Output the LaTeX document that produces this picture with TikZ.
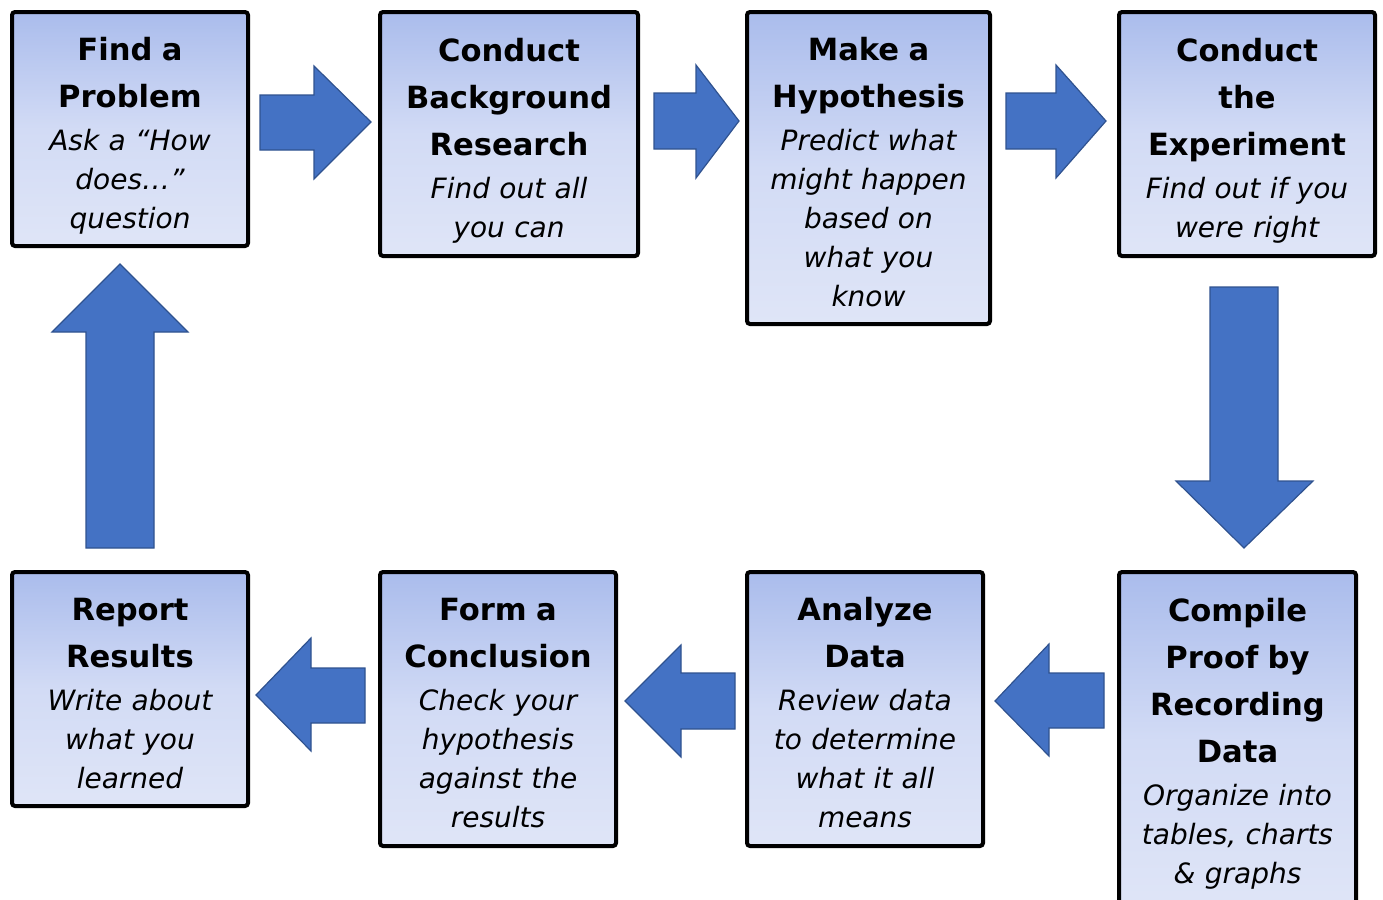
\documentclass[tikz,border=0pt]{standalone}
\usepackage{fontspec}
\setmainfont{DejaVu Sans}
\definecolor{arrowfill}{HTML}{4472C4}
\definecolor{arrowline}{HTML}{2F528F}
\definecolor{boxtop}{RGB}{170,188,236}
\definecolor{boxmid}{RGB}{210,219,245}
\definecolor{boxbot}{RGB}{223,229,247}
\newcommand{\tl}[1]{{\bfseries\upshape\fontsize{15.3}{19.5}\selectfont #1}}
\begin{document}
\begin{tikzpicture}[x=0.5pt, y=-0.5pt,
  stepbox/.style={draw=black, line width=2pt, rounded corners=1.5pt,
    top color=boxtop, bottom color=boxbot, middle color=boxmid,
    inner sep=0pt},
  steptext/.style={inner sep=0pt, align=center, text width=135pt,
    font=\itshape\fontsize{14}{19.5}\selectfont, yshift=-3.5pt},
  blockarrow/.style={fill=arrowfill, draw=arrowline, line width=0.6pt, line join=miter}]
\useasboundingbox (0,0) rectangle (1383,900);
\clip (0,0) rectangle (1383,900);

% boxes
\node[stepbox, minimum width=118pt, minimum height=117pt] (find) at (130,129) {};
\node[stepbox, minimum width=129pt, minimum height=122pt] (research) at (509,134) {};
\node[stepbox, minimum width=121.5pt, minimum height=156pt] (hypo) at (868.5,168) {};
\node[stepbox, minimum width=128pt, minimum height=122pt] (exper) at (1247,134) {};
\node[stepbox, minimum width=118.5pt, minimum height=169pt] (compile) at (1237.5,741) {};
\node[stepbox, minimum width=118pt, minimum height=137pt] (analyze) at (865,709) {};
\node[stepbox, minimum width=118pt, minimum height=137pt] (concl) at (498,709) {};
\node[stepbox, minimum width=118pt, minimum height=117pt] (report) at (130,689) {};

% texts
\node[steptext] (findtxt) at (find.center)
  {\tl{Find a}\\[4pt]\tl{Problem}\\[2pt]Ask a “How\\does…”\\question};
\node[steptext] (researchtxt) at (research.center)
  {\tl{Conduct}\\[4pt]\tl{Background}\\[4pt]\tl{Research}\\[2pt]Find out all\\you can};
\node[steptext, yshift=1.5pt] (hypotxt) at (hypo.center)
  {\tl{Make a}\\[4pt]\tl{Hypothesis}\\[2pt]Predict what\\might happen\\based on\\what you\\know};
\node[steptext] (expertxt) at (exper.center)
  {\tl{Conduct}\\[4pt]\tl{the}\\[4pt]\tl{Experiment}\\[2pt]Find out if you\\were right};
\node[steptext, yshift=2pt] (compiletxt) at (compile.center)
  {\tl{Compile}\\[4pt]\tl{Proof by}\\[4pt]\tl{Recording}\\[4pt]\tl{Data}\\[2pt]Organize into\\tables, charts\\\& graphs};
\node[steptext, yshift=1.5pt] (analyzetxt) at (analyze.center)
  {\tl{Analyze}\\[4pt]\tl{Data}\\[2pt]Review data\\to determine\\what it all\\means};
\node[steptext, yshift=1.5pt] (concltxt) at (concl.center)
  {\tl{Form a}\\[4pt]\tl{Conclusion}\\[2pt]Check your\\hypothesis\\against the\\results};
\node[steptext, yshift=1pt] (reporttxt) at (report.center)
  {\tl{Report}\\[4pt]\tl{Results}\\[2pt]Write about\\what you\\learned};

% block arrows
\draw[blockarrow] (260,95) -- (314,95) -- (314,66) -- (371,122) -- (314,179) -- (314,150) -- (260,150) -- cycle;
\draw[blockarrow] (654,93) -- (696,93) -- (696,65) -- (739,121) -- (696,178) -- (696,149) -- (654,149) -- cycle;
\draw[blockarrow] (1006,93) -- (1056,93) -- (1056,65) -- (1106,121) -- (1056,178) -- (1056,149) -- (1006,149) -- cycle;
\draw[blockarrow] (1210,287) -- (1278,287) -- (1278,481) -- (1313,481) -- (1244,548) -- (1176,481) -- (1210,481) -- cycle;
\draw[blockarrow] (1104,673) -- (1049,673) -- (1049,644) -- (995,701) -- (1049,756) -- (1049,728) -- (1104,728) -- cycle;
\draw[blockarrow] (735,673) -- (681,673) -- (681,645) -- (625,701) -- (681,757) -- (681,729) -- (735,729) -- cycle;
\draw[blockarrow] (365,668) -- (311,668) -- (311,638) -- (256,695) -- (311,751) -- (311,723) -- (365,723) -- cycle;
\draw[blockarrow] (86,548) -- (86,332) -- (52,332) -- (120,264) -- (188,332) -- (154,332) -- (154,548) -- cycle;
\end{tikzpicture}
\end{document}
